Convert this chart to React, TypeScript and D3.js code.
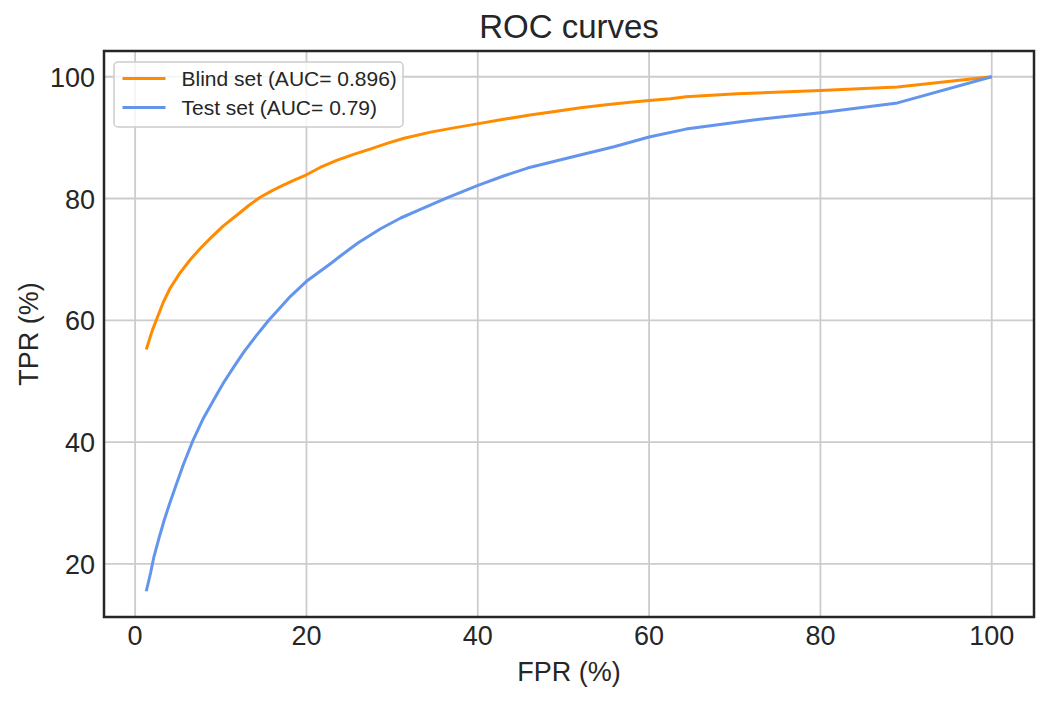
import * as d3 from "d3";
import { useEffect, useRef } from "react";

// ROC points (FPR %, TPR %)
const blindFpr = [1.3, 2.0, 2.6, 3.3, 4.1, 5.2, 6.4, 7.6, 8.8, 10.3, 11.9, 13.3, 14.6, 16.0, 17.3, 18.7, 20.0, 21.6, 23.6, 25.6, 27.6, 29.5, 31.4, 34.5, 37.2, 40.1, 43.0, 46.1, 49.0, 52.0, 55.0, 57.8, 60.0, 62.5, 64.3, 70.3, 80.0, 89.0, 100];
const blindTpr = [55.2, 58.3, 60.5, 63.0, 65.3, 67.7, 69.9, 71.8, 73.5, 75.5, 77.3, 78.9, 80.2, 81.3, 82.2, 83.1, 83.9, 85.1, 86.3, 87.3, 88.2, 89.1, 89.9, 90.9, 91.6, 92.3, 93.0, 93.7, 94.3, 94.9, 95.4, 95.8, 96.1, 96.4, 96.7, 97.2, 97.75, 98.3, 100];

const testFpr = [1.3, 1.8, 2.2, 2.8, 3.4, 4.0, 4.6, 5.6, 6.7, 8.0, 9.2, 10.3, 11.5, 12.7, 14.1, 15.6, 17.0, 18.1, 20.0, 22.8, 24.0, 26.0, 28.6, 31.0, 33.3, 36.4, 40.1, 43.0, 45.8, 50.4, 55.9, 60.0, 64.3, 72.2, 80.0, 89.0, 100];
const testTpr = [15.5, 18.5, 21.2, 24.3, 27.2, 29.8, 32.2, 36.2, 40.1, 44.0, 47.0, 49.7, 52.3, 54.8, 57.4, 60.0, 62.2, 63.9, 66.4, 69.3, 70.6, 72.7, 75.0, 76.8, 78.2, 80.1, 82.2, 83.7, 85.0, 86.6, 88.5, 90.1, 91.4, 92.9, 94.1, 95.7, 100];

const seriesNames = ["Blind set (AUC= 0.896)", "Test set (AUC= 0.79)"];
const seriesColors = ["#ff8c00", "#6495ed"];
const xTicks = [0, 20, 40, 60, 80, 100];
const yTicks = [20, 40, 60, 80, 100];

export default function App() {
  const ref = useRef<SVGSVGElement>(null);

  useEffect(() => {
    const svg = d3.select(ref.current);
    svg.selectAll("*").remove();

    const width = 1048;
    const height = 702;
    const m = { top: 51, right: 14, bottom: 85, left: 104 };
    const font = "'Liberation Sans', Arial, sans-serif";
    const ink = "#262626";

    const allX = [...blindFpr, ...testFpr];
    const allY = [...blindTpr, ...testTpr];
    const [x0, x1] = d3.extent(allX) as [number, number];
    const [y0, y1] = d3.extent(allY) as [number, number];
    const px = (x1 - x0) * 0.05;
    const py = (y1 - y0) * 0.05;

    const x = d3.scaleLinear().domain([x0 - px, x1 + px]).range([m.left, width - m.right]);
    const y = d3.scaleLinear().domain([y0 - py, y1 + py]).range([height - m.bottom, m.top]);

    svg.append("rect").attr("width", width).attr("height", height).attr("fill", "white");

    // grid
    const grid = svg.append("g").attr("stroke", "#cccccc").attr("stroke-width", 1.8);
    grid.selectAll("line.gx").data(xTicks).enter().append("line")
      .attr("x1", (d) => x(d)).attr("x2", (d) => x(d))
      .attr("y1", m.top).attr("y2", height - m.bottom);
    grid.selectAll("line.gy").data(yTicks).enter().append("line")
      .attr("x1", m.left).attr("x2", width - m.right)
      .attr("y1", (d) => y(d)).attr("y2", (d) => y(d));

    // curves
    const line = d3.line<[number, number]>().x((d) => x(d[0])).y((d) => y(d[1]));
    const series = [
      d3.zip(blindFpr, blindTpr) as [number, number][],
      d3.zip(testFpr, testTpr) as [number, number][],
    ];
    series.forEach((pts, i) => {
      svg.append("path")
        .attr("d", line(pts))
        .attr("fill", "none")
        .attr("stroke", seriesColors[i])
        .attr("stroke-width", 3)
        .attr("stroke-linejoin", "round");
    });

    // frame
    svg.append("rect")
      .attr("x", m.left).attr("y", m.top)
      .attr("width", width - m.left - m.right)
      .attr("height", height - m.top - m.bottom)
      .attr("fill", "none").attr("stroke", ink).attr("stroke-width", 2.5);

    // tick labels
    svg.append("g").selectAll("text").data(xTicks).enter().append("text")
      .attr("x", (d) => x(d)).attr("y", height - m.bottom + 28)
      .attr("text-anchor", "middle")
      .attr("font-family", font).attr("font-size", 27).attr("fill", ink)
      .text((d) => d);
    svg.append("g").selectAll("text").data(yTicks).enter().append("text")
      .attr("x", m.left - 9).attr("y", (d) => y(d) + 10)
      .attr("text-anchor", "end")
      .attr("font-family", font).attr("font-size", 27).attr("fill", ink)
      .text((d) => d);

    // labels and title
    svg.append("text")
      .attr("x", (m.left + width - m.right) / 2).attr("y", 681)
      .attr("text-anchor", "middle")
      .attr("font-family", font).attr("font-size", 27).attr("fill", ink)
      .text("FPR (%)");
    svg.append("text")
      .attr("transform", `translate(38,${(m.top + height - m.bottom) / 2}) rotate(-90)`)
      .attr("text-anchor", "middle")
      .attr("font-family", font).attr("font-size", 27).attr("fill", ink)
      .text("TPR (%)");
    svg.append("text")
      .attr("x", (m.left + width - m.right) / 2).attr("y", 38)
      .attr("text-anchor", "middle")
      .attr("font-family", font).attr("font-size", 33).attr("fill", ink)
      .text("ROC curves");

    // legend
    const lg = svg.append("g").attr("transform", "translate(114,62)");
    lg.append("rect")
      .attr("width", 289).attr("height", 65).attr("rx", 4)
      .attr("fill", "white").attr("fill-opacity", 0.8)
      .attr("stroke", "#cccccc").attr("stroke-width", 1.5);
    seriesNames.forEach((name, i) => {
      const cy = 16.5 + i * 29;
      lg.append("line")
        .attr("x1", 8.5).attr("x2", 51.5).attr("y1", cy).attr("y2", cy)
        .attr("stroke", seriesColors[i]).attr("stroke-width", 3);
      lg.append("text")
        .attr("x", 67.5).attr("y", cy + 7.5)
        .attr("font-family", font).attr("font-size", 21).attr("fill", ink)
        .text(name);
    });
  }, []);

  return (
    <div style={{ position: "absolute", left: 0, top: 0 }}>
      <svg ref={ref} width={1048} height={702} style={{ display: "block" }} />
    </div>
  );
}
